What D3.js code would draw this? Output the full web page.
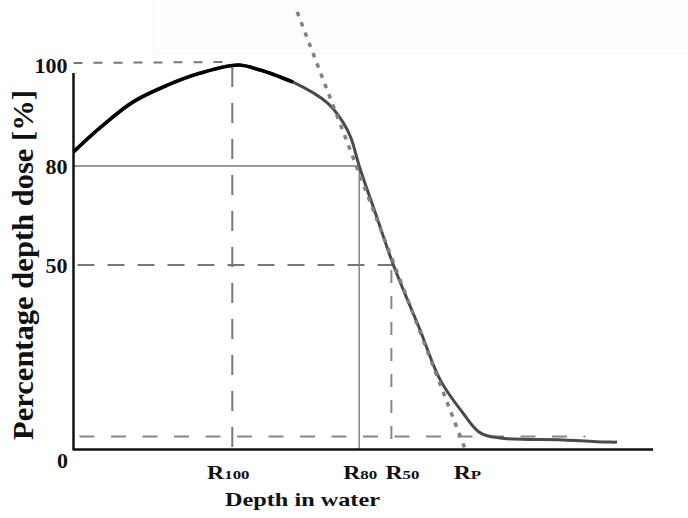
<!DOCTYPE html>
<html><head><meta charset="utf-8">
<script src="https://cdn.jsdelivr.net/npm/d3@7"></script>
<style>body{margin:0;background:#fff}</style>
</head><body><svg id="c" width="688" height="518"></svg>
<script>
// depth (arbitrary units) and percentage depth dose
const depth = [0, 4.7, 10.3, 16.2, 21.9, 28.4, 32.2, 37.9, 43.8, 46.6, 47.9, 49.3, 52.2, 55.2, 59.8, 63.3, 67.2, 70.2, 73.6, 84.5, 92.6, 93.8];
const dose  = [82.8, 87.7, 92.7, 96.0, 98.4, 100, 99.0, 96.6, 92.5, 88.5, 85.5, 80, 65.2, 50, 32.4, 18.8, 9.9, 4.5, 3.1, 2.6, 2.0, 2.0];
const yTickValues = [0, 50, 80, 100];
const yTickLabels = ["0", "50", "80", "100"];
const markerSub = ["100", "80", "50", "P"];
const markerDepth = [27.4, 49.3, 55.2, 67.1];
const markerDose = [100, 80, 50, 0];
const tailDose = 3.5, tailEnd = 88.3;
const tangentDepth = [38.6, 67.6], tangentDose = [110.5, 0];
const yAxisTop = 98.4;

const svg = d3.select("#c");
const x = d3.scaleLinear().domain([0, 100]).range([73.5, 653]);
const y = d3.scaleLinear().domain([0, 50, 80, 100]).range([449.5, 265, 166, 65]);

// faint background artifact
svg.append("rect").attr("x", 153).attr("y", -2).attr("width", 540).attr("height", 55)
  .attr("fill", "#fdfdfd").attr("stroke", "#f6f6f6");

const g = svg.append("g");
const ln = (x1, y1, x2, y2) => g.append("line").attr("x1", x1).attr("y1", y1).attr("x2", x2).attr("y2", y2);

// reference lines
ln(x(0), y(100) - 2, x(markerDepth[0]) - 4, y(100) - 3).attr("stroke", "#777").attr("stroke-width", 2).attr("stroke-dasharray", "9,11");
ln(x(markerDepth[0]), y(100) + 2, x(markerDepth[0]), y(0)).attr("stroke", "#777").attr("stroke-width", 2).attr("stroke-dasharray", "20,16");
ln(x(0), y(80), x(markerDepth[1]), y(80)).attr("stroke", "#777").attr("stroke-width", 1.3);
ln(x(markerDepth[1]), y(80), x(markerDepth[1]), y(0)).attr("stroke", "#777").attr("stroke-width", 1.3);
ln(x(0) + 4, y(50), x(markerDepth[2]), y(50)).attr("stroke", "#777").attr("stroke-width", 2).attr("stroke-dasharray", "17,13");
ln(x(markerDepth[2]) - 2, y(50) + 5, x(markerDepth[2]) - 2, y(0)).attr("stroke", "#888").attr("stroke-width", 2).attr("stroke-dasharray", "13,13");
ln(x(0) + 6, y(tailDose), x(tailEnd), y(tailDose)).attr("stroke", "#888").attr("stroke-width", 2).attr("stroke-dasharray", "15,16.5");

// axes
ln(x(0), y(yAxisTop), x(0), y(0)).attr("stroke", "#111").attr("stroke-width", 2.5);
ln(x(0) - 1, y(0), x(100), y(0)).attr("stroke", "#111").attr("stroke-width", 2.5);

// curve
const pts = depth.map((d, i) => [d, dose[i]]);
const line = d3.line().x(d => x(d[0])).y(d => y(d[1])).curve(d3.curveCatmullRom);
g.append("path").attr("d", line(pts)).attr("fill", "none").attr("stroke", "#4a4a4a").attr("stroke-width", 3);
g.append("path").attr("d", line(pts.slice(0, 8))).attr("fill", "none").attr("stroke", "#000").attr("stroke-width", 3.6);

// tangent (dotted)
g.append("path").attr("d", d3.line().x(d => x(d[0])).y(d => y(d[1]))(tangentDepth.map((d, i) => [d, tangentDose[i]])))
  .attr("fill", "none").attr("stroke", "#808080").attr("stroke-width", 3.5).attr("stroke-dasharray", "4.5,6.5");

// y tick labels
const font = "'Liberation Serif','Times New Roman',serif";
yTickValues.forEach((v, i) => {
  const t = svg.append("text").text(yTickLabels[i]).attr("font-family", font).attr("font-weight", "bold")
    .attr("font-size", 22).attr("fill", "#111");
  if (v === 0) t.attr("x", x(0) - 11).attr("y", y(0) + 18).attr("text-anchor", "middle");
  else t.attr("x", x(0) - 6).attr("y", y(v) + 8).attr("text-anchor", "end");
});

// x marker labels
const nudge = [-4, 1, 9, 5];
markerDepth.forEach((d, i) => {
  const t = svg.append("text").attr("font-family", font).attr("font-weight", "bold").attr("fill", "#111")
    .attr("text-anchor", "middle")
    .attr("transform", `translate(${x(d) + nudge[i]},479) scale(1.25,1)`);
  t.append("tspan").attr("font-size", 19).text("R");
  t.append("tspan").attr("font-size", 13.5).text(markerSub[i]);
});

// axis titles
svg.append("text").text("Depth in water").attr("font-family", font).attr("font-weight", "bold")
  .attr("font-size", 19).attr("fill", "#111").attr("x", 225).attr("y", 506)
  .attr("textLength", 155).attr("lengthAdjust", "spacingAndGlyphs");
svg.append("text").text("Percentage depth dose [%]").attr("font-family", font).attr("font-weight", "bold")
  .attr("font-size", 29).attr("fill", "#111")
  .attr("transform", "translate(33,440) rotate(-90)")
  .attr("textLength", 350).attr("lengthAdjust", "spacingAndGlyphs");
</script></body></html>
